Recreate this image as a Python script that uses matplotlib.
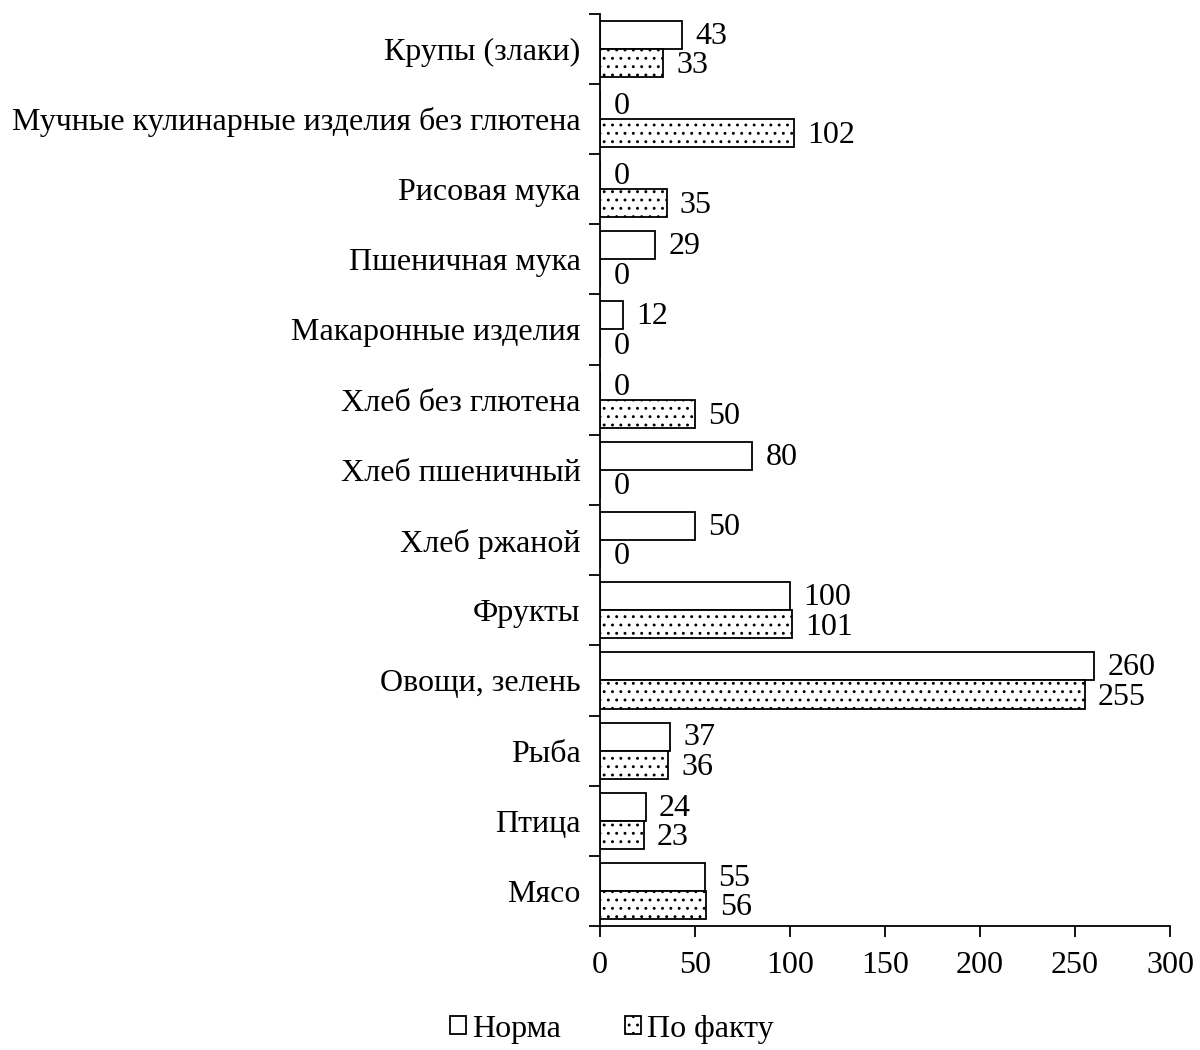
import matplotlib.pyplot as plt
import numpy as np

plt.rcParams['font.family'] = ['Liberation Serif', 'DejaVu Serif']
plt.rcParams['hatch.linewidth'] = 0.9
plt.rcParams['hatch.color'] = '#333333'

categories = ['Крупы (злаки)', 'Мучные кулинарные изделия без глютена', 'Рисовая мука',
              'Пшеничная мука', 'Макаронные изделия', 'Хлеб без глютена', 'Хлеб пшеничный',
              'Хлеб ржаной', 'Фрукты', 'Овощи, зелень', 'Рыба', 'Птица', 'Мясо']
norma = [43, 0, 0, 29, 12, 0, 80, 50, 100, 260, 37, 24, 55]
fact = [33, 102, 35, 0, 0, 50, 0, 0, 101, 255, 36, 23, 56]
xticks = [0, 50, 100, 150, 200, 250, 300]

fs = 23

fig = plt.figure(figsize=(12, 10.5), dpi=100)
ax = fig.add_axes([0.5, 0.118, 0.475, 0.869])

n = len(categories)
y = np.arange(n)[::-1]  # first category on top
h = 0.4

b1 = ax.barh(y + h / 2, norma, height=h, color='white', edgecolor='black', linewidth=1.3, label='Норма')
b2 = ax.barh(y - h / 2, fact, height=h, color='white', edgecolor='black', linewidth=1.3,
             hatch='..', label='По факту')

for yi, v in zip(y, norma):
    ax.text(v + 7, yi + h / 2 - 0.02, str(v), va='center', ha='left', fontsize=fs)
for yi, v in zip(y, fact):
    ax.text(v + 7, yi - h / 2 - 0.04, str(v), va='center', ha='left', fontsize=fs)

ax.set_xlim(0, 300)
ax.set_ylim(-0.5, n - 0.5)
ax.set_xticks(xticks)
ax.tick_params(axis='x', labelsize=fs, length=8, width=1.3, direction='out', pad=10)

ax.set_yticks(y)
ax.set_yticklabels(categories)
ax.set_yticks(np.arange(n + 1) - 0.5, minor=True)
ax.tick_params(axis='y', which='major', length=0, labelsize=fs, pad=14)
ax.tick_params(axis='y', which='minor', length=8, width=1.3, direction='out')

for s in ['top', 'right']:
    ax.spines[s].set_visible(False)
ax.spines['left'].set_linewidth(1.3)
ax.spines['bottom'].set_linewidth(1.3)

fig.legend(handles=[b1, b2], loc='center', bbox_to_anchor=(0.51, 0.02), ncol=2,
           frameon=False, fontsize=fs, handlelength=0.5, handleheight=0.5,
           handletextpad=0.2, columnspacing=2.0)

fig.savefig('out.png', dpi=100)
